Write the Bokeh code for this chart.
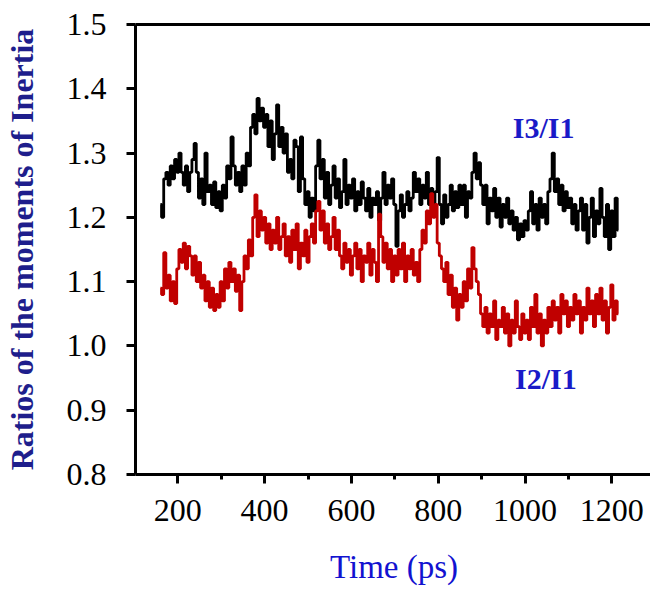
import numpy as np
from bokeh.plotting import figure
from bokeh.models import FixedTicker, LinearAxis, Label, Range1d, PrintfTickFormatter
from bokeh.embed import file_html
from bokeh.resources import INLINE

# Time axis (ps), sampled every 5 ps
time_ps = list(range(160, 1216, 5))

# I3/I1 ratio (black)
i3_i1 = [
    1.22, 1.20, 1.26, 1.27, 1.25, 1.28, 1.26, 1.29, 1.27, 1.30,
    1.27, 1.25, 1.28, 1.24, 1.27, 1.29, 1.315, 1.27, 1.23, 1.26,
    1.22, 1.30, 1.24, 1.25, 1.22, 1.255, 1.215, 1.24, 1.21, 1.25,
    1.23, 1.28, 1.26, 1.325, 1.28, 1.25, 1.27, 1.24, 1.28, 1.25,
    1.30, 1.28, 1.34, 1.36, 1.33, 1.385, 1.35, 1.37, 1.34, 1.36,
    1.31, 1.35, 1.29, 1.33, 1.375, 1.31, 1.34, 1.30, 1.33, 1.27,
    1.29, 1.26, 1.32, 1.31, 1.24, 1.325, 1.26, 1.22, 1.24, 1.20,
    1.23, 1.21, 1.28, 1.32, 1.26, 1.29, 1.23, 1.27, 1.22, 1.25,
    1.28, 1.23, 1.26, 1.215, 1.24, 1.29, 1.22, 1.25, 1.23, 1.26,
    1.21, 1.24, 1.22, 1.255, 1.23, 1.21, 1.245, 1.20, 1.23, 1.22,
    1.24, 1.195, 1.23, 1.27, 1.22, 1.25, 1.23, 1.26, 1.22, 1.155,
    1.21, 1.235, 1.20, 1.22, 1.24, 1.21, 1.23, 1.27, 1.24, 1.26,
    1.22, 1.25, 1.23, 1.27, 1.22, 1.245, 1.21, 1.24, 1.293, 1.22,
    1.19, 1.235, 1.20, 1.22, 1.25, 1.21, 1.24, 1.215, 1.25, 1.22,
    1.25, 1.20, 1.24, 1.23, 1.27, 1.30, 1.26, 1.285, 1.25, 1.22,
    1.25, 1.19, 1.23, 1.21, 1.245, 1.20, 1.23, 1.185, 1.22, 1.20,
    1.23, 1.19, 1.21, 1.18, 1.20, 1.165, 1.19, 1.17, 1.195, 1.18,
    1.21, 1.24, 1.19, 1.22, 1.18, 1.23, 1.20, 1.22, 1.19, 1.24,
    1.26, 1.30, 1.24, 1.26, 1.22, 1.25, 1.21, 1.24, 1.215, 1.23,
    1.19, 1.22, 1.18, 1.21, 1.23, 1.18, 1.22, 1.16, 1.20, 1.23,
    1.17, 1.21, 1.19, 1.245, 1.20, 1.17, 1.22, 1.15, 1.21, 1.17,
    1.23, 1.18,
]

# I2/I1 ratio (red)
i2_i1 = [
    1.09, 1.08, 1.145, 1.09, 1.11, 1.07, 1.10, 1.066, 1.12, 1.15,
    1.13, 1.16, 1.12, 1.155, 1.14, 1.11, 1.14, 1.10, 1.13, 1.09,
    1.11, 1.07, 1.10, 1.06, 1.09, 1.055, 1.08, 1.06, 1.10, 1.07,
    1.12, 1.09, 1.13, 1.10, 1.12, 1.085, 1.11, 1.055, 1.10, 1.14,
    1.12, 1.165, 1.14, 1.20, 1.235, 1.17, 1.21, 1.18, 1.20, 1.16,
    1.19, 1.15, 1.18, 1.16, 1.20, 1.15, 1.17, 1.19, 1.14, 1.17,
    1.13, 1.18, 1.15, 1.19, 1.12, 1.16, 1.14, 1.18, 1.13, 1.17,
    1.19, 1.16, 1.21, 1.225, 1.18, 1.21, 1.16, 1.19, 1.15, 1.17,
    1.20, 1.15, 1.18, 1.14, 1.12, 1.16, 1.13, 1.15, 1.11, 1.14,
    1.16, 1.12, 1.15, 1.10, 1.14, 1.13, 1.16, 1.11, 1.15, 1.13,
    1.10, 1.205, 1.17, 1.13, 1.16, 1.12, 1.15, 1.10, 1.14, 1.11,
    1.15, 1.12, 1.16, 1.10, 1.14, 1.12, 1.15, 1.11, 1.13, 1.10,
    1.15, 1.18, 1.16, 1.21, 1.19, 1.237, 1.20, 1.22, 1.16, 1.14,
    1.12, 1.10, 1.13, 1.08, 1.11, 1.06, 1.09, 1.04, 1.08, 1.06,
    1.10, 1.07, 1.12, 1.09, 1.153, 1.12, 1.10, 1.08, 1.05, 1.03,
    1.06, 1.02, 1.05, 1.03, 1.07, 1.01, 1.04, 1.03, 1.06, 1.02,
    1.05, 1.00, 1.04, 1.02, 1.07, 1.03, 1.01, 1.05, 1.02, 1.04,
    1.01, 1.06, 1.03, 1.08, 1.02, 1.05, 1.00, 1.04, 1.02, 1.06,
    1.03, 1.07, 1.04, 1.06, 1.02, 1.08, 1.05, 1.07, 1.03, 1.06,
    1.04, 1.08, 1.05, 1.07, 1.02, 1.06, 1.04, 1.09, 1.05, 1.07,
    1.03, 1.08, 1.05, 1.09, 1.04, 1.07, 1.02, 1.06, 1.095, 1.04,
    1.07, 1.05,
]

x_major = [200, 400, 600, 800, 1000, 1200]
x_minor = [100, 300, 500, 700, 900, 1100, 1300]
y_major = [0.8, 0.9, 1.0, 1.1, 1.2, 1.3, 1.4, 1.5]

FONT = "Liberation Serif"

p = figure(
    frame_width=517, frame_height=450,
    x_range=Range1d(102.5, 1293.7), y_range=Range1d(0.8, 1.5),
    output_backend="svg", toolbar_location=None,
    min_border_left=132, min_border_top=24, min_border_right=0, min_border_bottom=110,
)
p.outline_line_color = None
p.grid.visible = False
p.background_fill_color = "white"
p.border_fill_color = "white"

p.step(time_ps, i3_i1, mode="center", line_color="black", line_width=2.8)
p.step(time_ps, i2_i1, mode="center", line_color="#c00000", line_width=2.8)

xa = p.xaxis[0]
xa.ticker = FixedTicker(ticks=x_major, minor_ticks=x_minor)
xa.axis_line_width = 3
xa.major_tick_line_width = 3
xa.minor_tick_line_width = 3
xa.major_tick_in = 0
xa.major_tick_out = 9
xa.minor_tick_in = 0
xa.minor_tick_out = 5
xa.major_label_text_font = FONT
xa.major_label_text_font_size = "32px"
xa.major_label_text_color = "black"
xa.major_label_standoff = 16
xa.axis_label = "Time (ps)"
xa.axis_label_text_font = FONT
xa.axis_label_text_font_size = "33px"
xa.axis_label_text_font_style = "normal"
xa.axis_label_text_color = "#1212d0"
xa.axis_label_standoff = 25

ya = p.yaxis[0]
ya.ticker = FixedTicker(ticks=y_major)
ya.formatter = PrintfTickFormatter(format="%.1f")
ya.axis_line_width = 3
ya.major_tick_line_width = 3
ya.major_tick_in = 0
ya.major_tick_out = 9
ya.minor_tick_line_color = None
ya.major_label_text_font = FONT
ya.major_label_text_font_size = "32px"
ya.major_label_text_color = "black"
ya.major_label_standoff = 20
ya.axis_label = "Ratios of the moments of Inertia"
ya.axis_label_text_font = FONT
ya.axis_label_text_font_size = "32px"
ya.axis_label_text_font_style = "bold"
ya.axis_label_text_color = "#1e1e8c"
ya.axis_label_standoff = 24

top = LinearAxis(ticker=FixedTicker(ticks=[]), axis_line_width=3,
                 major_tick_line_color=None, minor_tick_line_color=None,
                 major_label_text_font_size="0px")
p.add_layout(top, "above")

p.add_layout(Label(x=1043, y=1.34, text="I3/I1", text_align="center", text_baseline="middle",
                   text_font=FONT, text_font_style="bold", text_font_size="30px",
                   text_color="#1a1ac8"))
p.add_layout(Label(x=1048, y=0.949, text="I2/I1", text_align="center", text_baseline="middle",
                   text_font=FONT, text_font_style="bold", text_font_size="30px",
                   text_color="#1a1ac8"))

open("out.html", "w").write(file_html(p, INLINE))
